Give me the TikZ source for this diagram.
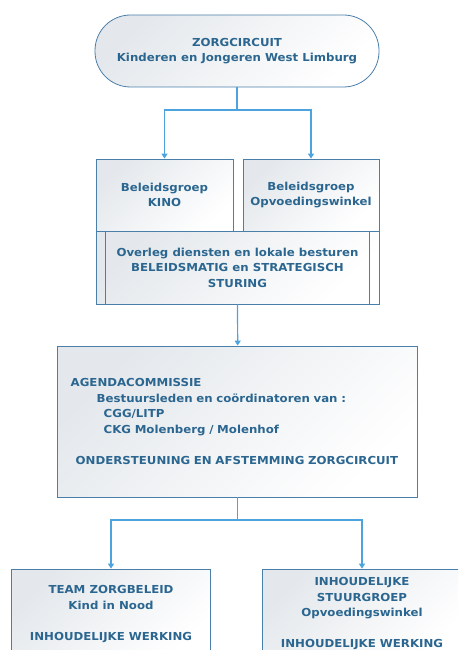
\documentclass[tikz,border=0pt]{standalone}
\usepackage{fontspec}
\setmainfont[FakeStretch=1.07]{DejaVu Sans}
\usetikzlibrary{arrows.meta}
\definecolor{zcText}{HTML}{2B6690}
\definecolor{zcBorder}{HTML}{4A7FAA}
\definecolor{zcLine}{HTML}{4DA3DD}
\definecolor{zcShade}{HTML}{E4E8EC}
\newcommand{\zcfont}{\bfseries\fontsize{11}{15.5}\selectfont}

\begin{document}
\begin{tikzpicture}[x=1pt, y=-1pt, line width=0.8pt,
  box/.style={draw=zcBorder, top color=zcShade, bottom color=white, shading angle=45,
    text=zcText, font=\zcfont, align=center, inner sep=0pt},
  conn/.style={draw=zcLine, line width=1.2pt, -{Triangle[width=6pt,length=5pt]}}]
  \clip (0,0) rectangle (458,650);

  \node[box, rounded corners=35.5pt, minimum width=284pt, minimum height=72pt] (zorg) at (237,51) {ZORGCIRCUIT\\Kinderen en Jongeren West Limburg};

  \node[box, minimum width=137pt, minimum height=72pt] (kino) at (164.5,195) {Beleidsgroep\\KINO};
  \node[box, minimum width=136pt, minimum height=72pt] (opvw) at (311,195) {Beleidsgroep\\Opvoedingswinkel};
  \node[box, minimum width=283pt, minimum height=73pt] (overleg) at (237.5,267.5) {Overleg diensten en lokale besturen\\BELEIDSMATIG en STRATEGISCH\\STURING};
  \draw[zcBorder] ([xshift=10pt]overleg.north west) -- ([xshift=10pt]overleg.south west);
  \draw[zcBorder] ([xshift=-10pt]overleg.north east) -- ([xshift=-10pt]overleg.south east);

  \node[box, align=left, text width=334pt, inner xsep=13pt, minimum width=360pt, minimum height=151pt] (agenda) at (237.7,421.5)
    {AGENDACOMMISSIE\\
     \hspace*{26pt}Bestuursleden en coördinatoren van :\\
     \hspace*{33pt}CGG/LITP\\
     \hspace*{33pt}CKG Molenberg / Molenhof\\[15.5pt]
     \hspace*{5pt}ONDERSTEUNING EN AFSTEMMING ZORGCIRCUIT};

  \node[box, minimum width=199pt, minimum height=90pt] (team) at (111,614) {TEAM ZORGBELEID\\Kind in Nood\\[15.5pt]INHOUDELIJKE WERKING};
  \node[box, minimum width=200pt, minimum height=90pt] (stuur) at (362,614) {INHOUDELIJKE\\STUURGROEP\\Opvoedingswinkel\\[15.5pt]INHOUDELIJKE WERKING};

  \coordinate (split1) at (237,110);
  \coordinate (split2) at (237.7,520);
  \draw[zcLine, line width=1.2pt] (zorg.south) -- (split1);
  \draw[conn] (split1) -| (kino.north);
  \draw[conn] (split1) -| (opvw.north);
  \draw[conn] (overleg.south) -- (agenda.north);
  \draw[zcLine, line width=1.2pt] (agenda.south) -- (split2);
  \draw[conn] (split2) -| (team.north);
  \draw[conn] (split2) -| (stuur.north);
\end{tikzpicture}
\end{document}
